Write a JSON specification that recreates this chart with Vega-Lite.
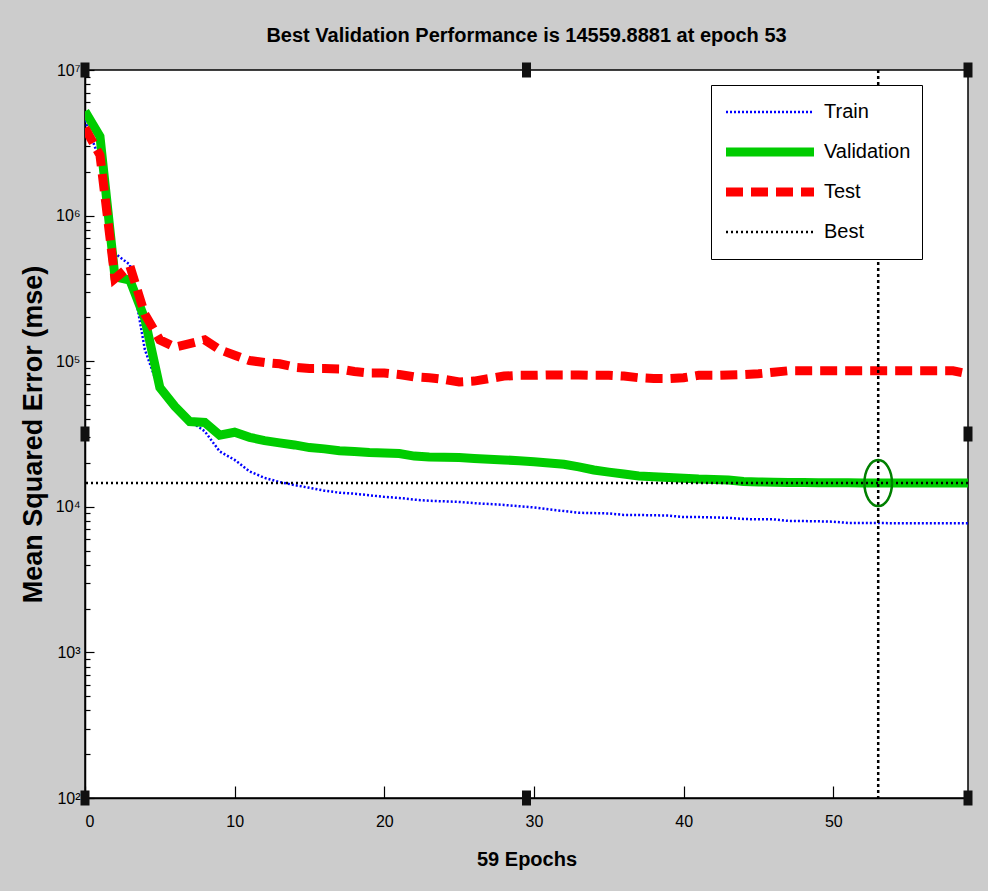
{
  "$schema": "https://vega.github.io/schema/vega-lite/v6.json",
  "width": 883,
  "height": 728,
  "autosize": {"type": "none"},
  "padding": {"left": 85, "top": 70, "right": 20, "bottom": 93},
  "background": "#cccccc",
  "title": {
    "text": "Best Validation Performance is 14559.8881 at epoch 53",
    "font": "Liberation Sans",
    "fontSize": 20,
    "fontWeight": "bold",
    "color": "#000000",
    "anchor": "middle",
    "offset": 16
  },
  "datasets": {
    "perf": [
      {"epoch":0,"series":"Train","mse":4500000},{"epoch":1,"series":"Train","mse":2400000},{"epoch":2,"series":"Train","mse":550000},{"epoch":3,"series":"Train","mse":460000},{"epoch":4,"series":"Train","mse":120000},{"epoch":5,"series":"Train","mse":62000},{"epoch":6,"series":"Train","mse":48000},{"epoch":7,"series":"Train","mse":39000},{"epoch":8,"series":"Train","mse":33000},{"epoch":9,"series":"Train","mse":24000},
      {"epoch":10,"series":"Train","mse":21000},{"epoch":11,"series":"Train","mse":17500},{"epoch":12,"series":"Train","mse":15800},{"epoch":13,"series":"Train","mse":14800},{"epoch":14,"series":"Train","mse":14100},{"epoch":15,"series":"Train","mse":13500},{"epoch":16,"series":"Train","mse":12900},{"epoch":17,"series":"Train","mse":12500},{"epoch":18,"series":"Train","mse":12300},{"epoch":19,"series":"Train","mse":12000},
      {"epoch":20,"series":"Train","mse":11700},{"epoch":21,"series":"Train","mse":11500},{"epoch":22,"series":"Train","mse":11200},{"epoch":23,"series":"Train","mse":11000},{"epoch":24,"series":"Train","mse":10900},{"epoch":25,"series":"Train","mse":10800},{"epoch":26,"series":"Train","mse":10600},{"epoch":27,"series":"Train","mse":10450},{"epoch":28,"series":"Train","mse":10300},{"epoch":29,"series":"Train","mse":10100},
      {"epoch":30,"series":"Train","mse":9900},{"epoch":31,"series":"Train","mse":9600},{"epoch":32,"series":"Train","mse":9350},{"epoch":33,"series":"Train","mse":9100},{"epoch":34,"series":"Train","mse":9050},{"epoch":35,"series":"Train","mse":9000},{"epoch":36,"series":"Train","mse":8800},{"epoch":37,"series":"Train","mse":8780},{"epoch":38,"series":"Train","mse":8750},{"epoch":39,"series":"Train","mse":8700},
      {"epoch":40,"series":"Train","mse":8500},{"epoch":41,"series":"Train","mse":8500},{"epoch":42,"series":"Train","mse":8450},{"epoch":43,"series":"Train","mse":8400},{"epoch":44,"series":"Train","mse":8250},{"epoch":45,"series":"Train","mse":8200},{"epoch":46,"series":"Train","mse":8200},{"epoch":47,"series":"Train","mse":8000},{"epoch":48,"series":"Train","mse":7980},{"epoch":49,"series":"Train","mse":7950},
      {"epoch":50,"series":"Train","mse":7900},{"epoch":51,"series":"Train","mse":7750},{"epoch":52,"series":"Train","mse":7740},{"epoch":53,"series":"Train","mse":7730},{"epoch":54,"series":"Train","mse":7720},{"epoch":55,"series":"Train","mse":7720},{"epoch":56,"series":"Train","mse":7710},{"epoch":57,"series":"Train","mse":7710},{"epoch":58,"series":"Train","mse":7700},{"epoch":59,"series":"Train","mse":7700},

      {"epoch":0,"series":"Validation","mse":5200000},{"epoch":1,"series":"Validation","mse":3500000},{"epoch":2,"series":"Validation","mse":380000},{"epoch":3,"series":"Validation","mse":360000},{"epoch":4,"series":"Validation","mse":195000},{"epoch":5,"series":"Validation","mse":66000},{"epoch":6,"series":"Validation","mse":49000},{"epoch":7,"series":"Validation","mse":38500},{"epoch":8,"series":"Validation","mse":38000},{"epoch":9,"series":"Validation","mse":31000},
      {"epoch":10,"series":"Validation","mse":32500},{"epoch":11,"series":"Validation","mse":30000},{"epoch":12,"series":"Validation","mse":28500},{"epoch":13,"series":"Validation","mse":27500},{"epoch":14,"series":"Validation","mse":26600},{"epoch":15,"series":"Validation","mse":25500},{"epoch":16,"series":"Validation","mse":25000},{"epoch":17,"series":"Validation","mse":24300},{"epoch":18,"series":"Validation","mse":24000},{"epoch":19,"series":"Validation","mse":23600},
      {"epoch":20,"series":"Validation","mse":23400},{"epoch":21,"series":"Validation","mse":23200},{"epoch":22,"series":"Validation","mse":22300},{"epoch":23,"series":"Validation","mse":22000},{"epoch":24,"series":"Validation","mse":21900},{"epoch":25,"series":"Validation","mse":21800},{"epoch":26,"series":"Validation","mse":21500},{"epoch":27,"series":"Validation","mse":21200},{"epoch":28,"series":"Validation","mse":21000},{"epoch":29,"series":"Validation","mse":20700},
      {"epoch":30,"series":"Validation","mse":20400},{"epoch":31,"series":"Validation","mse":20000},{"epoch":32,"series":"Validation","mse":19600},{"epoch":33,"series":"Validation","mse":18800},{"epoch":34,"series":"Validation","mse":17900},{"epoch":35,"series":"Validation","mse":17300},{"epoch":36,"series":"Validation","mse":16800},{"epoch":37,"series":"Validation","mse":16300},{"epoch":38,"series":"Validation","mse":16100},{"epoch":39,"series":"Validation","mse":15900},
      {"epoch":40,"series":"Validation","mse":15700},{"epoch":41,"series":"Validation","mse":15500},{"epoch":42,"series":"Validation","mse":15400},{"epoch":43,"series":"Validation","mse":15300},{"epoch":44,"series":"Validation","mse":14900},{"epoch":45,"series":"Validation","mse":14800},{"epoch":46,"series":"Validation","mse":14750},{"epoch":47,"series":"Validation","mse":14700},{"epoch":48,"series":"Validation","mse":14680},{"epoch":49,"series":"Validation","mse":14650},
      {"epoch":50,"series":"Validation","mse":14620},{"epoch":51,"series":"Validation","mse":14600},{"epoch":52,"series":"Validation","mse":14580},{"epoch":53,"series":"Validation","mse":14559.8881},{"epoch":54,"series":"Validation","mse":14565},{"epoch":55,"series":"Validation","mse":14570},{"epoch":56,"series":"Validation","mse":14575},{"epoch":57,"series":"Validation","mse":14580},{"epoch":58,"series":"Validation","mse":14585},{"epoch":59,"series":"Validation","mse":14590},

      {"epoch":0,"series":"Test","mse":4000000},{"epoch":1,"series":"Test","mse":2600000},{"epoch":2,"series":"Test","mse":370000},{"epoch":3,"series":"Test","mse":450000},{"epoch":4,"series":"Test","mse":210000},{"epoch":5,"series":"Test","mse":140000},{"epoch":6,"series":"Test","mse":125000},{"epoch":7,"series":"Test","mse":132000},{"epoch":8,"series":"Test","mse":140000},{"epoch":9,"series":"Test","mse":120000},
      {"epoch":10,"series":"Test","mse":110000},{"epoch":11,"series":"Test","mse":101000},{"epoch":12,"series":"Test","mse":98000},{"epoch":13,"series":"Test","mse":96000},{"epoch":14,"series":"Test","mse":91000},{"epoch":15,"series":"Test","mse":89000},{"epoch":16,"series":"Test","mse":89000},{"epoch":17,"series":"Test","mse":88500},{"epoch":18,"series":"Test","mse":85000},{"epoch":19,"series":"Test","mse":83000},
      {"epoch":20,"series":"Test","mse":83000},{"epoch":21,"series":"Test","mse":81000},{"epoch":22,"series":"Test","mse":78000},{"epoch":23,"series":"Test","mse":77000},{"epoch":24,"series":"Test","mse":75000},{"epoch":25,"series":"Test","mse":72000},{"epoch":26,"series":"Test","mse":73000},{"epoch":27,"series":"Test","mse":76000},{"epoch":28,"series":"Test","mse":79000},{"epoch":29,"series":"Test","mse":80000},
      {"epoch":30,"series":"Test","mse":80000},{"epoch":31,"series":"Test","mse":80500},{"epoch":32,"series":"Test","mse":80500},{"epoch":33,"series":"Test","mse":80500},{"epoch":34,"series":"Test","mse":80000},{"epoch":35,"series":"Test","mse":80000},{"epoch":36,"series":"Test","mse":79000},{"epoch":37,"series":"Test","mse":77000},{"epoch":38,"series":"Test","mse":76000},{"epoch":39,"series":"Test","mse":76000},
      {"epoch":40,"series":"Test","mse":77000},{"epoch":41,"series":"Test","mse":80000},{"epoch":42,"series":"Test","mse":80000},{"epoch":43,"series":"Test","mse":80500},{"epoch":44,"series":"Test","mse":81000},{"epoch":45,"series":"Test","mse":82000},{"epoch":46,"series":"Test","mse":84000},{"epoch":47,"series":"Test","mse":86000},{"epoch":48,"series":"Test","mse":86000},{"epoch":49,"series":"Test","mse":86000},
      {"epoch":50,"series":"Test","mse":86000},{"epoch":51,"series":"Test","mse":86000},{"epoch":52,"series":"Test","mse":86000},{"epoch":53,"series":"Test","mse":86000},{"epoch":54,"series":"Test","mse":86000},{"epoch":55,"series":"Test","mse":86000},{"epoch":56,"series":"Test","mse":86000},{"epoch":57,"series":"Test","mse":86000},{"epoch":58,"series":"Test","mse":86000},{"epoch":59,"series":"Test","mse":82000}
    ],
    "best": [{"epoch": 53, "mse": 14559.8881}],
    "handles": [
      {"epoch": 0, "mse": 10000000}, {"epoch": 29.5, "mse": 10000000}, {"epoch": 59, "mse": 10000000},
      {"epoch": 0, "mse": 31623}, {"epoch": 59, "mse": 31623},
      {"epoch": 0, "mse": 100}, {"epoch": 29.5, "mse": 100}, {"epoch": 59, "mse": 100}
    ]
  },
  "layer": [
    {
      "data": {"name": "perf"},
      "transform": [{"filter": "datum.series === 'Train'"}],
      "mark": {"type": "line", "clip": true, "strokeCap": "butt", "strokeWidth": 2.5},
      "encoding": {
        "x": {
          "field": "epoch", "type": "quantitative",
          "scale": {"domain": [0, 59], "nice": false, "zero": false},
          "axis": {"title": "59 Epochs", "values": [0, 10, 20, 30, 40, 50], "tickSize": -12, "labelPadding": 27, "labelBaseline": "top", "titlePadding": 20, "titleFontSize": 20, "orient": "bottom"}
        },
        "y": {
          "field": "mse", "type": "quantitative",
          "scale": {"type": "log", "domain": [100, 10000000], "nice": false},
          "axis": {
            "title": "Mean Squared Error  (mse)", "orient": "left",
            "values": [100, 1000, 10000, 100000, 1000000, 10000000],
            "labelExpr": "'10' + ['⁰','¹','²','³','⁴','⁵','⁶','⁷'][round(log(datum.value) / LN10)]",
            "tickSize": -9, "labelPadding": 14, "labelBaseline": "middle", "labelFlush": false,
            "titleFontSize": 27, "titlePadding": 8
          }
        },
        "color": {
          "field": "series", "type": "nominal",
          "scale": {"domain": ["Train", "Validation", "Test", "Best"], "range": ["#0000ff", "#00cc00", "#ff0000", "#000000"]},
          "legend": {
            "symbolStrokeWidth": {"expr": "indexof(['Validation', 'Test'], datum.value) >= 0 ? 9 : 2.5"},
            "symbolOffset": 38, "labelOffset": 44
          }
        },
        "strokeDash": {
          "field": "series", "type": "nominal",
          "scale": {"domain": ["Train", "Validation", "Test", "Best"], "range": [[2, 2], [1, 0], [17, 8], [2, 3]]},
          "legend": {
            "symbolStrokeWidth": {"expr": "indexof(['Validation', 'Test'], datum.value) >= 0 ? 9 : 2.5"},
            "symbolOffset": 38, "labelOffset": 44
          }
        }
      }
    },
    {
      "data": {"name": "perf"},
      "transform": [{"filter": "datum.series === 'Validation'"}],
      "mark": {"type": "line", "clip": true, "strokeCap": "butt", "color": "#00cc00", "strokeWidth": 9},
      "encoding": {
        "x": {"field": "epoch", "type": "quantitative", "axis": null},
        "y": {"field": "mse", "type": "quantitative", "axis": null}
      }
    },
    {
      "data": {"name": "perf"},
      "transform": [{"filter": "datum.series === 'Test'"}],
      "mark": {"type": "line", "clip": true, "strokeCap": "butt", "color": "#ff0000", "strokeWidth": 9, "strokeDash": [17, 8]},
      "encoding": {
        "x": {"field": "epoch", "type": "quantitative", "axis": null},
        "y": {"field": "mse", "type": "quantitative", "axis": null}
      }
    },
    {
      "data": {"name": "best"},
      "mark": {"type": "rule", "color": "#000000", "strokeWidth": 2.5, "strokeDash": [2, 3]},
      "encoding": {
        "y": {
          "field": "mse", "type": "quantitative",
          "axis": {
            "orient": "left", "title": null, "labels": false, "domain": false, "tickSize": -5,
            "values": [200, 300, 400, 500, 600, 700, 800, 900, 2000, 3000, 4000, 5000, 6000, 7000, 8000, 9000, 20000, 30000, 40000, 50000, 60000, 70000, 80000, 90000, 200000, 300000, 400000, 500000, 600000, 700000, 800000, 900000, 2000000, 3000000, 4000000, 5000000, 6000000, 7000000, 8000000, 9000000]
          }
        }
      }
    },
    {
      "data": {"name": "best"},
      "mark": {"type": "rule", "color": "#000000", "strokeWidth": 2.5, "strokeDash": [3, 3]},
      "encoding": {
        "x": {"field": "epoch", "type": "quantitative", "axis": null}
      }
    },
    {
      "data": {"name": "best"},
      "mark": {"type": "point", "shape": "M-0.6,0A0.6,1,0,1,1,0.6,0A0.6,1,0,1,1,-0.6,0Z", "size": 2116, "filled": false, "stroke": "#008000", "strokeWidth": 2.5, "opacity": 1},
      "encoding": {
        "x": {"field": "epoch", "type": "quantitative", "axis": null},
        "y": {"field": "mse", "type": "quantitative", "axis": null}
      }
    },
    {
      "data": {"name": "handles"},
      "mark": {"type": "point", "shape": "M-0.6,-1H0.6V1H-0.6Z", "size": 225, "filled": true, "fill": "#111111", "stroke": null, "opacity": 1},
      "encoding": {
        "x": {"field": "epoch", "type": "quantitative", "axis": null},
        "y": {"field": "mse", "type": "quantitative", "axis": null}
      }
    }
  ],
  "resolve": {"axis": {"x": "independent", "y": "independent"}},
  "config": {
    "view": {"stroke": "#000000", "strokeWidth": 1.5, "fill": "#ffffff"},
    "axis": {
      "grid": false,
      "domainColor": "#000000", "domainWidth": 1.5,
      "tickColor": "#000000", "tickWidth": 1.2,
      "labelColor": "#000000", "labelFont": "Liberation Sans", "labelFontSize": 16,
      "titleColor": "#000000", "titleFont": "Liberation Sans", "titleFontWeight": "bold"
    },
    "legend": {
      "orient": "none",
      "legendX": 626,
      "legendY": 15,
      "title": null,
      "symbolType": "stroke",
      "symbolSize": 7744,
      "clipHeight": 32,
      "rowPadding": 8,
      "padding": 11,
      "labelFont": "Liberation Sans",
      "labelFontSize": 20,
      "labelColor": "#000000",
      "strokeColor": "#000000",
      "fillColor": "#ffffff",
      "cornerRadius": 0
    }
  }
}
